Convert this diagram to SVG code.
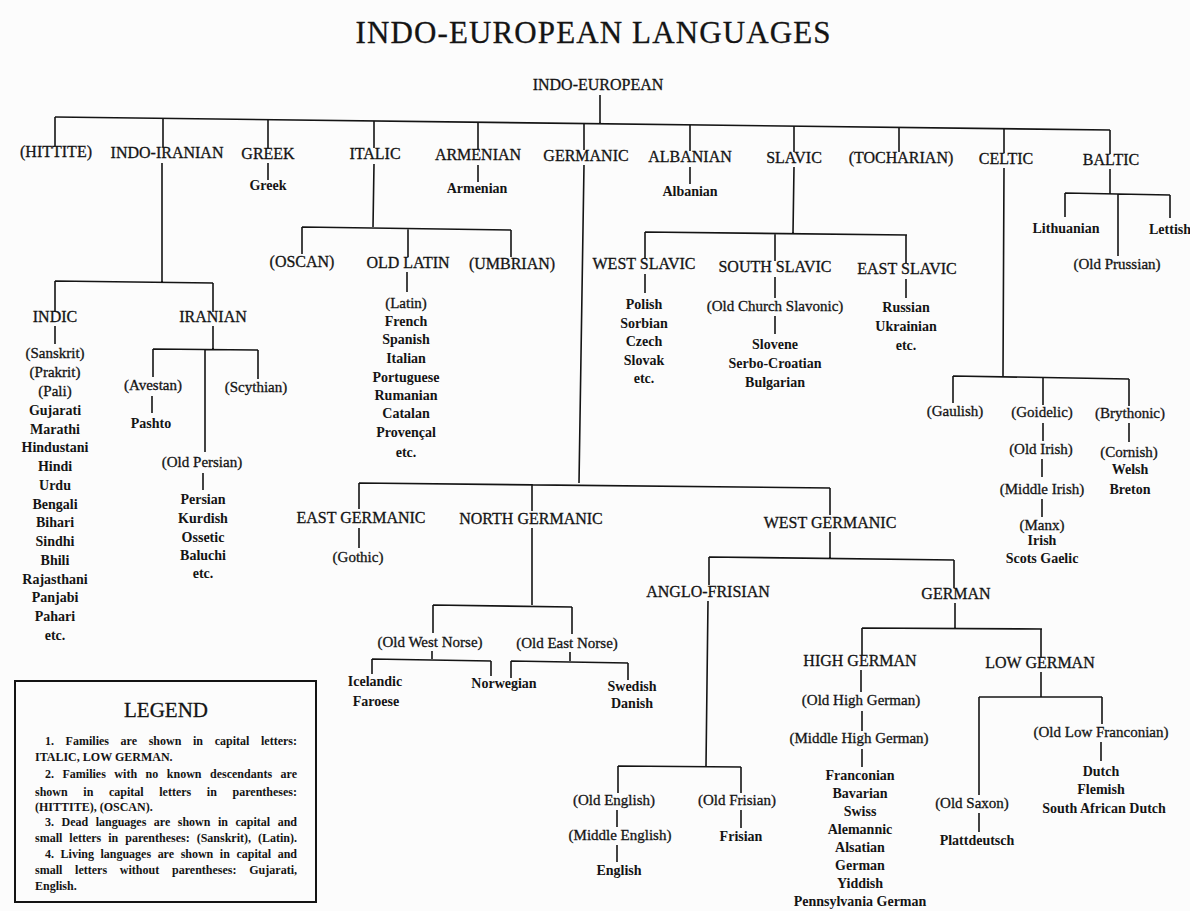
<svg xmlns="http://www.w3.org/2000/svg" width="1190" height="911" viewBox="0 0 1190 911">
<style>
text{font-family:"Liberation Serif","Times New Roman",serif;fill:#141414;text-anchor:middle}
.t{font-size:31px;stroke:#141414;stroke-width:0.3}
.c{font-size:16px;stroke:#141414;stroke-width:0.3}
.d{font-size:15px;stroke:#141414;stroke-width:0.3}
.l{font-size:14px;font-weight:bold}
.lg{font-size:21px;stroke:#141414;stroke-width:0.3}
.lt{font-size:12px;font-weight:bold;text-anchor:start}
.ln{stroke:#141414;stroke-width:1.6;fill:none}
.box{stroke:#141414;stroke-width:2;fill:none}
</style>
<rect width="1190" height="911" fill="#fcfcfc"/>
<text class="t" x="593" y="43" textLength="475" lengthAdjust="spacing">INDO-EUROPEAN LANGUAGES</text>

<g id="connectors" class="ln">
<path d="M600,95V124M55,117L1110,130"/>
<path d="M55,117V146M163,118V147M268,120V148M374,121V148M478,122V149M584,124V150M690,125V151M794,126V152M899,127V152M1004,129V153M1110,130V154"/>
<path d="M268,163V180M478,165V182M690,167V184"/>
<path d="M162,163V282M55,281L213,283M55,281V312M55,326V344M213,283V312M213,326V349M153,349L258,350M153,349V377M258,350V379M152,396V413M205,349V452M203,473V490"/>
<path d="M374,164L373,227M302,227L511,230M302,227V254M408,228V257M407,272V292M511,230V257"/>
<path d="M794,167L793,233M645,232L907,235M645,232V259M645,274V293M775,233V261M775,277V298M775,316V334M906,235V263M906,279V298"/>
<path d="M1004,168L1003,376M953,376L1129,379M953,376V403M1043,377V405M1043,423V441M1042,459V477M1042,499V517M1129,379V406M1129,423V442"/>
<path d="M1110,169V194M1065,193L1170,195M1065,193V217M1118,194V256M1170,195V218"/>
<path d="M584,165L579,483M359,483L830,488M359,483V509M359,528V548M532,484V511M532,528V605M433,605L572,607M433,605V633M432,651V659M372,659L491,661M372,659V674M491,661V676M572,607V634M570,652V661M511,661L628,663M511,661V678M628,663V680"/>
<path d="M830,488V515M830,532V558M709,557L954,560M709,557V585M708,601L706,766M618,766L741,767M618,766V793M617,810V827M617,845V862M741,767V793M741,810V828"/>
<path d="M954,560V588M955,603V628M862,628L1042,629M862,628V655M861,670V692M862,711V731M862,749V767M1041,629V657M1041,672V697M979,697L1102,697M979,697V795M979,813V832M1102,697V724M1101,742V761"/>
</g>

<g id="n-indo-european"><text class="c" x="598" y="90" font-size="15">INDO-EUROPEAN</text></g>
<g id="n-hittite"><text class="c" x="56" y="157">(HITTITE)</text></g>
<g id="n-indo-iranian"><text class="c" x="167" y="158">INDO-IRANIAN</text></g>
<g id="n-greek"><text class="c" x="268" y="158.5">GREEK</text><text class="l" x="268" y="190">Greek</text></g>
<g id="n-italic"><text class="c" x="375" y="159">ITALIC</text></g>
<g id="n-armenian"><text class="c" x="478" y="160">ARMENIAN</text><text class="l" x="477" y="193">Armenian</text></g>
<g id="n-germanic"><text class="c" x="586" y="161">GERMANIC</text></g>
<g id="n-albanian"><text class="c" x="690" y="162">ALBANIAN</text><text class="l" x="690" y="196">Albanian</text></g>
<g id="n-slavic"><text class="c" x="794" y="162.5">SLAVIC</text></g>
<g id="n-tocharian"><text class="c" x="901" y="163">(TOCHARIAN)</text></g>
<g id="n-celtic"><text class="c" x="1006" y="164">CELTIC</text></g>
<g id="n-baltic"><text class="c" x="1111" y="165">BALTIC</text></g>

<g id="n-indic"><text class="c" x="55" y="322">INDIC</text>
<text class="d" x="55" y="358">(Sanskrit)</text><text class="d" x="55" y="377">(Prakrit)</text><text class="d" x="55" y="396">(Pali)</text>
<text class="l" x="55" y="415">Gujarati</text><text class="l" x="55" y="434">Marathi</text><text class="l" x="55" y="452">Hindustani</text><text class="l" x="55" y="471">Hindi</text><text class="l" x="55" y="490">Urdu</text><text class="l" x="55" y="509">Bengali</text><text class="l" x="55" y="527">Bihari</text><text class="l" x="55" y="546">Sindhi</text><text class="l" x="55" y="565">Bhili</text><text class="l" x="55" y="584">Rajasthani</text><text class="l" x="55" y="602">Panjabi</text><text class="l" x="55" y="621">Pahari</text><text class="l" x="55" y="640">etc.</text></g>
<g id="n-iranian"><text class="c" x="213" y="322">IRANIAN</text></g>
<g id="n-avestan"><text class="d" x="153" y="390">(Avestan)</text><text class="l" x="151" y="428">Pashto</text></g>
<g id="n-scythian"><text class="d" x="256" y="392">(Scythian)</text></g>
<g id="n-old-persian"><text class="d" x="202" y="467">(Old Persian)</text>
<text class="l" x="203" y="504">Persian</text><text class="l" x="203" y="523">Kurdish</text><text class="l" x="203" y="542">Ossetic</text><text class="l" x="203" y="560">Baluchi</text><text class="l" x="203" y="578">etc.</text></g>

<g id="n-oscan"><text class="c" x="302" y="267">(OSCAN)</text></g>
<g id="n-old-latin"><text class="c" x="408" y="268">OLD LATIN</text>
<text class="d" x="406" y="308">(Latin)</text><text class="l" x="406" y="326">French</text><text class="l" x="406" y="344">Spanish</text><text class="l" x="406" y="363">Italian</text><text class="l" x="406" y="382">Portuguese</text><text class="l" x="406" y="400">Rumanian</text><text class="l" x="406" y="418">Catalan</text><text class="l" x="406" y="437">Provençal</text><text class="l" x="406" y="457">etc.</text></g>
<g id="n-umbrian"><text class="c" x="512" y="269">(UMBRIAN)</text></g>

<g id="n-west-slavic"><text class="c" x="644" y="269">WEST SLAVIC</text>
<text class="l" x="644" y="309">Polish</text><text class="l" x="644" y="328">Sorbian</text><text class="l" x="644" y="346">Czech</text><text class="l" x="644" y="365">Slovak</text><text class="l" x="644" y="383">etc.</text></g>
<g id="n-south-slavic"><text class="c" x="775" y="272">SOUTH SLAVIC</text>
<text class="d" x="775" y="311">(Old Church Slavonic)</text>
<text class="l" x="775" y="349">Slovene</text><text class="l" x="775" y="368">Serbo-Croatian</text><text class="l" x="775" y="387">Bulgarian</text></g>
<g id="n-east-slavic"><text class="c" x="907" y="274">EAST SLAVIC</text>
<text class="l" x="906" y="312">Russian</text><text class="l" x="906" y="331">Ukrainian</text><text class="l" x="906" y="350">etc.</text></g>

<g id="n-gaulish"><text class="d" x="955" y="416">(Gaulish)</text></g>
<g id="n-goidelic"><text class="d" x="1042" y="417">(Goidelic)</text><text class="d" x="1041" y="454">(Old Irish)</text><text class="d" x="1042" y="494">(Middle Irish)</text>
<text class="d" x="1042" y="530">(Manx)</text><text class="l" x="1042" y="545">Irish</text><text class="l" x="1042" y="563">Scots Gaelic</text></g>
<g id="n-brythonic"><text class="d" x="1130" y="418">(Brythonic)</text><text class="d" x="1129" y="457">(Cornish)</text><text class="l" x="1130" y="474">Welsh</text><text class="l" x="1130" y="494">Breton</text></g>

<g id="n-lithuanian"><text class="l" x="1066" y="233">Lithuanian</text></g>
<g id="n-old-prussian"><text class="d" x="1117" y="269">(Old Prussian)</text></g>
<g id="n-lettish"><text class="l" x="1170" y="234">Lettish</text></g>

<g id="n-east-germanic"><text class="c" x="361" y="523">EAST GERMANIC</text><text class="d" x="358" y="562">(Gothic)</text></g>
<g id="n-north-germanic"><text class="c" x="531" y="524">NORTH GERMANIC</text></g>
<g id="n-old-west-norse"><text class="d" x="430" y="647">(Old West Norse)</text>
<text class="l" x="375" y="686">Icelandic</text><text class="l" x="376" y="706">Faroese</text><text class="l" x="504" y="688">Norwegian</text></g>
<g id="n-old-east-norse"><text class="d" x="567" y="648">(Old East Norse)</text>
<text class="l" x="632" y="691">Swedish</text><text class="l" x="632" y="708">Danish</text></g>
<g id="n-west-germanic"><text class="c" x="830" y="528">WEST GERMANIC</text></g>
<g id="n-anglo-frisian"><text class="c" x="708" y="597">ANGLO-FRISIAN</text></g>
<g id="n-old-english"><text class="d" x="614" y="805">(Old English)</text><text class="d" x="620" y="840">(Middle English)</text><text class="l" x="619" y="875">English</text></g>
<g id="n-old-frisian"><text class="d" x="737" y="805">(Old Frisian)</text><text class="l" x="741" y="841">Frisian</text></g>
<g id="n-german"><text class="c" x="956" y="599">GERMAN</text></g>
<g id="n-high-german"><text class="c" x="860" y="666">HIGH GERMAN</text>
<text class="d" x="861" y="705">(Old High German)</text><text class="d" x="859" y="743">(Middle High German)</text>
<text class="l" x="860" y="780">Franconian</text><text class="l" x="860" y="798">Bavarian</text><text class="l" x="860" y="816">Swiss</text><text class="l" x="860" y="834">Alemannic</text><text class="l" x="860" y="852">Alsatian</text><text class="l" x="860" y="870">German</text><text class="l" x="860" y="888">Yiddish</text><text class="l" x="860" y="906">Pennsylvania German</text></g>
<g id="n-low-german"><text class="c" x="1040" y="668">LOW GERMAN</text></g>
<g id="n-old-saxon"><text class="d" x="972" y="808">(Old Saxon)</text><text class="l" x="977" y="845">Plattdeutsch</text></g>
<g id="n-old-low-franconian"><text class="d" x="1101" y="737">(Old Low Franconian)</text>
<text class="l" x="1101" y="776">Dutch</text><text class="l" x="1101" y="794">Flemish</text><text class="l" x="1104" y="813">South African Dutch</text></g>

<g id="legend">
<rect class="box" x="15" y="681" width="301" height="221"/>
<text class="lg" x="166" y="717">LEGEND</text>
<text class="lt" x="45" y="745" word-spacing="8.6" textLength="252" lengthAdjust="spacing">1. Families are shown in capital letters:</text>
<text class="lt" x="35" y="761">ITALIC, LOW GERMAN.</text>
<text class="lt" x="45" y="778" word-spacing="5.5" textLength="252" lengthAdjust="spacing">2. Families with no known descendants are</text>
<text class="lt" x="35" y="796" word-spacing="12.6" textLength="262" lengthAdjust="spacing">shown in capital letters in parentheses:</text>
<text class="lt" x="35" y="811">(HITTITE), (OSCAN).</text>
<text class="lt" x="45" y="826" word-spacing="4.5" textLength="252" lengthAdjust="spacing">3. Dead languages are shown in capital and</text>
<text class="lt" x="35" y="842" word-spacing="4" textLength="262" lengthAdjust="spacing">small letters in parentheses: (Sanskrit), (Latin).</text>
<text class="lt" x="45" y="858" word-spacing="3.6" textLength="252" lengthAdjust="spacing">4. Living languages are shown in capital and</text>
<text class="lt" x="35" y="874" word-spacing="9.7" textLength="262" lengthAdjust="spacing">small letters without parentheses: Gujarati,</text>
<text class="lt" x="35" y="890">English.</text>
</g>
</svg>
